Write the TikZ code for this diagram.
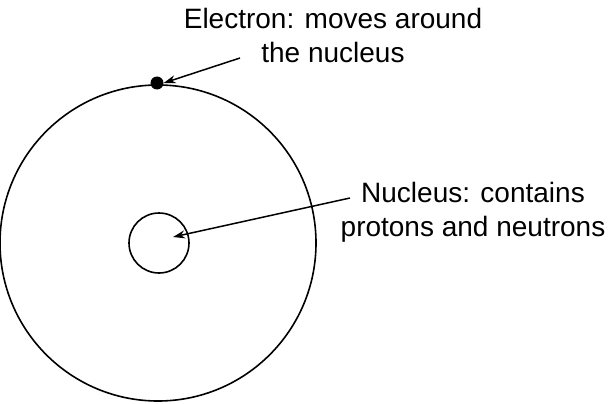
\documentclass[tikz,border=0pt]{standalone}
\usepackage{fontspec}
\usetikzlibrary{arrows.meta}
\setmainfont{Liberation Sans}
\begin{document}
\begin{tikzpicture}[x=1pt,y=-1pt,
  lbl/.style={align=center,font=\fontsize{28}{34}\selectfont,inner sep=0pt},
  arr/.style={-{Stealth[length=12pt,width=8pt]},line width=1.5pt}]
\useasboundingbox (0,0) rectangle (613,404);
\node[draw,circle,minimum size=316pt,line width=1.6pt,inner sep=0pt] (big) at (158,243) {};
\node[draw,circle,minimum size=60pt,line width=1.6pt,inner sep=0pt] (nuc) at (159,243) {};
\node[fill,circle,minimum size=13pt,inner sep=0pt] (el) at (157,83) {};
\node[lbl] (te) at (333,35) {Electron: moves around\\the nucleus};
\node[lbl] (tn) at (473,212) {Nucleus: contains\\protons and neutrons};
\coordinate (nc) at (173,237);
\draw[arr] (240,58) -- (el.east);
\draw[arr] (350,198) -- (nc);
\end{tikzpicture}
\end{document}
